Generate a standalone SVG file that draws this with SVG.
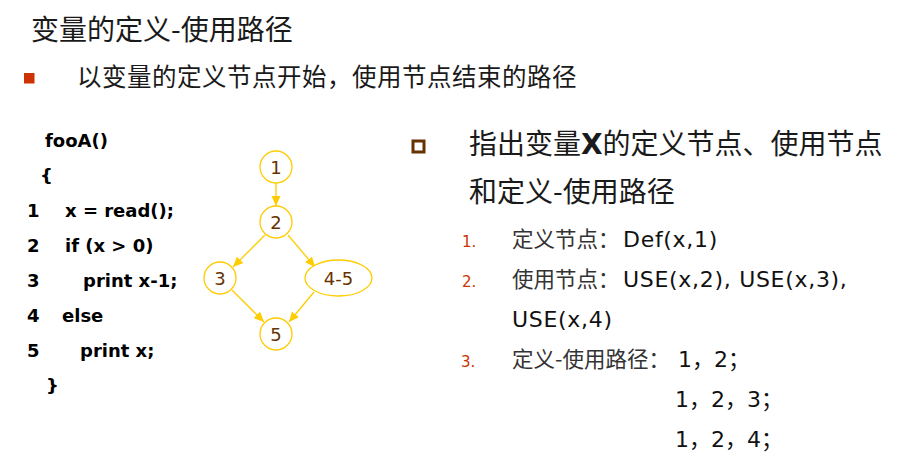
<svg xmlns="http://www.w3.org/2000/svg" width="905" height="471" viewBox="0 0 905 471">
<defs>
<marker id="ah" markerUnits="userSpaceOnUse" markerWidth="11" markerHeight="10" refX="10" refY="4.5" orient="auto">
<path d="M0,0 L10,4.5 L0,9 z" fill="#FFCC00"/>
</marker>
<style>
.cjk{font-family:"Noto Sans CJK SC",sans-serif;fill:#1a1a1a}
.code{font-family:"DejaVu Sans",sans-serif;font-weight:bold;font-size:18px;fill:#000}
.node{fill:#fff;stroke:#FFCC00;stroke-width:1.3}
.lbl{font-family:"DejaVu Sans",sans-serif;font-size:18px;fill:#663300;text-anchor:middle}
.edge{stroke:#FFCC00;stroke-width:1.3;fill:none;marker-end:url(#ah)}
.item{font-family:"DejaVu Sans","Noto Sans CJK SC",sans-serif;font-size:22px;fill:#111;letter-spacing:0.7px}
.path{font-family:"DejaVu Sans","Noto Sans CJK SC",sans-serif;font-size:22px;fill:#111}
.icjk{font-family:"Noto Sans CJK SC",sans-serif;font-size:21.5px;fill:#333}
.num{font-family:"DejaVu Sans",sans-serif;font-size:15px;fill:#CC3300}
</style>
</defs>
<rect width="905" height="471" fill="#fff"/>
<text class="cjk" x="31" y="40" font-size="28">变量的定义-使用路径</text>
<rect x="24" y="73" width="10.5" height="10.5" fill="#CC3300"/>
<text class="cjk" x="77" y="86" font-size="24.5" letter-spacing="0.5">以变量的定义节点开始，使用节点结束的路径</text>
<g id="code">
<text class="code" x="45" y="147">fooA()</text>
<text class="code" x="40" y="182">{</text>
<text class="code" x="27" y="217">1</text><text class="code" x="65" y="217">x = read();</text>
<text class="code" x="27" y="252">2</text><text class="code" x="65" y="252">if (x &gt; 0)</text>
<text class="code" x="27" y="287">3</text><text class="code" x="83" y="287">print x-1;</text>
<text class="code" x="27" y="322">4</text><text class="code" x="62" y="322">else</text>
<text class="code" x="27" y="357">5</text><text class="code" x="80" y="357">print x;</text>
<text class="code" x="46" y="392">}</text>
</g>
<g id="connectors">
<line class="edge" x1="276" y1="183" x2="276" y2="206"/>
<line class="edge" x1="265" y1="235" x2="233" y2="267"/>
<line class="edge" x1="288" y1="235" x2="315" y2="267"/>
<line class="edge" x1="232" y1="290" x2="264" y2="322"/>
<line class="edge" x1="314" y1="292" x2="289" y2="322"/>
</g>
<g id="n1"><circle class="node" cx="276" cy="167" r="16"/><text class="lbl" x="276" y="174">1</text></g>
<g id="n2"><circle class="node" cx="276" cy="222" r="16"/><text class="lbl" x="276" y="229">2</text></g>
<g id="n3"><circle class="node" cx="220" cy="278" r="16"/><text class="lbl" x="220" y="285">3</text></g>
<g id="n45"><ellipse class="node" cx="338.5" cy="278" rx="33.5" ry="18"/><text class="lbl" x="338.5" y="285">4-5</text></g>
<g id="n5"><circle class="node" cx="276" cy="334" r="16"/><text class="lbl" x="276" y="341">5</text></g>
<rect x="413" y="141" width="11" height="11" fill="none" stroke="#663300" stroke-width="3"/>
<text class="cjk" x="469" y="154" font-size="28" fill="#111">指出变量<tspan font-family="DejaVu Sans" font-weight="bold">X</tspan>的定义节点、使用节点</text>
<text class="cjk" x="469" y="202" font-size="28">和定义-使用路径</text>
<text class="num" x="462" y="247">1.</text>
<text class="icjk" x="512" y="247">定义节点：</text><text class="item" x="623" y="247">Def(x,1)</text>
<text class="num" x="462" y="287">2.</text>
<text class="icjk" x="512" y="287">使用节点：</text><text class="item" x="623" y="287">USE(x,2), USE(x,3),</text>
<text class="item" x="512" y="327">USE(x,4)</text>
<text class="num" x="461" y="367">3.</text>
<text class="icjk" x="512" y="367">定义-使用路径：</text><text class="path" x="678" y="367">1，2；</text>
<text class="path" x="675" y="407">1，2，3；</text>
<text class="path" x="675" y="447">1，2，4；</text>
</svg>
